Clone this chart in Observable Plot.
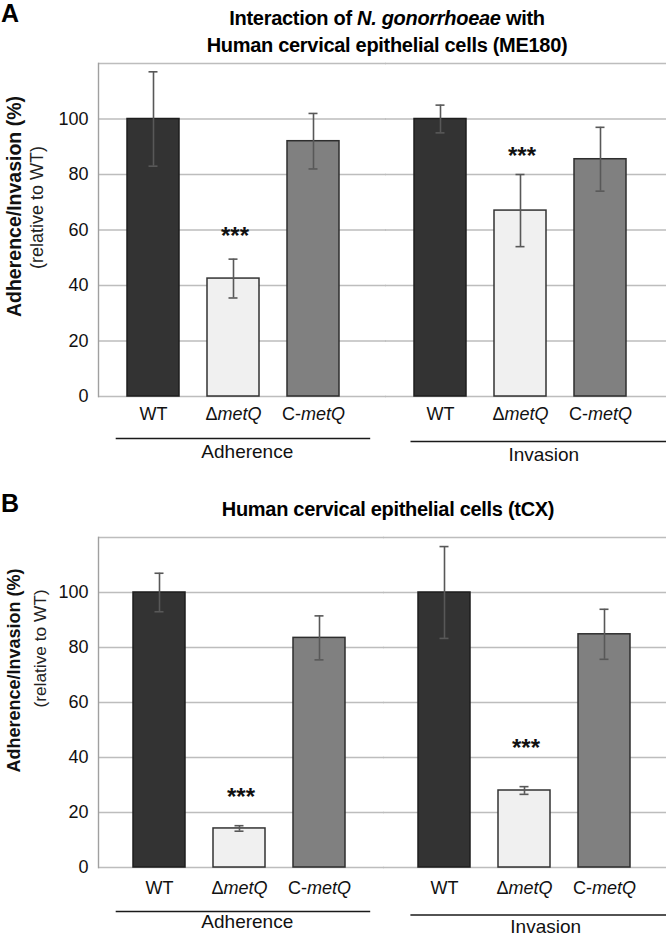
<!DOCTYPE html>
<html>
<head>
<meta charset="utf-8">
<script src="https://cdn.jsdelivr.net/npm/d3@7"></script>
<script src="https://cdn.jsdelivr.net/npm/@observablehq/plot@0.6"></script>
<style>
  body { margin: 0; background: #fff; font-family: "Liberation Sans", Arial, sans-serif; color: #000; }
  #root { position: relative; width: 666px; height: 941px; overflow: hidden; background: #fff; }
  .panel { position: absolute; left: 0; width: 666px; }
  .letter { position: absolute; left: 1px; font-weight: bold; font-size: 25px; line-height: 25px; }
  .title { position: absolute; width: 600px; text-align: center; font-weight: bold; font-size: 20px; line-height: 27px; letter-spacing: -0.3px; white-space: nowrap; }
  .panel svg { display: block; overflow: visible; position: absolute; left: 0; top: 0; }
</style>
</head>
<body>
<div id="root">
  <div class="panel" id="panelA" style="top:0px;height:470px;">
    <div class="letter" style="top:1px;">A</div>
    <div class="title" style="left:87px;top:5px;">Interaction of <i>N. gonorrhoeae</i> with<br>Human cervical epithelial cells (ME180)</div>
  </div>
  <div class="panel" id="panelB" style="top:470px;height:471px;">
    <div class="letter" style="top:21px;">B</div>
    <div class="title" style="left:88px;top:26px;">Human cervical epithelial cells (tCX)</div>
  </div>
</div>
<script>
// ---- data ----
const groups = ["Adherence", "Invasion"];
const strains = ["WT", "ΔmetQ", "C-metQ"];
const yTickValues = [0, 20, 40, 60, 80, 100];
const gridValues = [0, 20, 40, 60, 80, 100, 120];

// panel A (ME180), order: Adherence WT, ΔmetQ, C-metQ, Invasion WT, ΔmetQ, C-metQ
const meansA = [100, 42.5, 92, 100, 67, 85.5];
const errorsA = [17, 7, 10, 5, 13, 11.5];
const sigA = ["", "***", "", "", "***", ""];
const sigLevelA = [null, 58.6, null, null, 87.4, null];

// panel B (tCX)
const meansB = [100, 14.2, 83.5, 100, 28, 84.8];
const errorsB = [7, 1, 8, 16.7, 1.4, 9.1];
const sigB = ["", "***", "", "", "***", ""];
const sigLevelB = [null, 26.4, null, null, 44.2, null];

const yTitle = "Adherence/Invasion (%)";
const ySubtitle = "(relative to WT)";

const fills = ["#333333", "#f0f0f0", "#808080"];
const strokes = ["#1e1e1e", "#333333", "#2e2e2e"];

function rows(means, errors, sig, sigLevel) {
  const out = [];
  groups.forEach((g, gi) => strains.forEach((s, si) => {
    const i = gi * strains.length + si;
    out.push({group: g, strain: s, mean: means[i], err: errors[i], lo: means[i] - errors[i], hi: means[i] + errors[i], sig: sig[i], sigY: sigLevel[i]});
  }));
  return out;
}

function italicize(svg) {
  svg.querySelectorAll("text").forEach(t => {
    const s = t.textContent;
    if (s === "ΔmetQ" || s === "C-metQ") {
      const pre = s.slice(0, s.length - 4);
      while (t.firstChild) t.removeChild(t.firstChild);
      const a = document.createElementNS("http://www.w3.org/2000/svg", "tspan");
      a.textContent = pre;
      const b = document.createElementNS("http://www.w3.org/2000/svg", "tspan");
      b.textContent = "metQ";
      b.setAttribute("font-style", "italic");
      t.appendChild(a); t.appendChild(b);
    }
  });
}

function panel(data, cfg) {
  const first = groups[0];
  const perGroup = [];
  cfg.groupStyle.forEach((gs, gi) => {
    const g = [groups[gi]];
    // horizontal gridlines, continued across the gap between the two groups
    perGroup.push(Plot.ruleY(gridValues.map(v => ({group: groups[gi], v})), {fx: "group", y: "v", stroke: "#bdbdbd", strokeWidth: 1.4, insetRight: gs.gridInsetRight}));
    perGroup.push(Plot.ruleY(g, {fx: d => d, y: () => 0, dy: gs.lineDy, insetLeft: gs.insetLeft, insetRight: gs.insetRight, stroke: "#1a1a1a", strokeWidth: 1.3}));
    perGroup.push(Plot.text(g, {fx: d => d, text: d => d, frameAnchor: "bottom", dy: gs.labelDy, dx: gs.labelDx, fontSize: 19, fill: "#111"}));
  });
  const svg = Plot.plot({
    width: 666,
    height: cfg.height,
    marginLeft: 97,
    marginRight: cfg.marginRight,
    marginTop: cfg.marginTop,
    marginBottom: cfg.marginBottom,
    style: {fontFamily: "Liberation Sans, Arial, sans-serif", fontSize: "18px", background: "transparent", color: "#111", overflow: "visible"},
    fx: {domain: groups, paddingInner: cfg.fxPi, paddingOuter: 0, axis: null, label: null},
    x: {domain: strains, paddingInner: 0.345, paddingOuter: cfg.xPo, axis: null, label: null},
    y: {domain: [0, 120], axis: null, label: null},
    marks: [
      ...perGroup,
      Plot.frame({anchor: "left", facetAnchor: "left", stroke: "#a0a0a0", strokeWidth: 1.4}),
      Plot.text(yTickValues.map(v => ({group: first, v})), {fx: "group", y: "v", text: d => String(d.v), frameAnchor: "left", textAnchor: "end", dx: -10, fontSize: 18, fill: "#111"}),
      Plot.text([first], {fx: d => d, text: () => yTitle, frameAnchor: "left", textAnchor: "middle", rotate: -90, dx: -84, dy: cfg.titleDy, fontWeight: "bold", fontSize: cfg.titleSize, fill: "#111"}),
      Plot.text([first], {fx: d => d, text: () => ySubtitle, frameAnchor: "left", textAnchor: "middle", rotate: -90, dx: cfg.subDx, dy: cfg.subDy, fontSize: cfg.subSize, fill: "#222"}),
      Plot.barY(data, {fx: "group", x: "strain", y: "mean", fill: d => fills[strains.indexOf(d.strain)], stroke: d => strokes[strains.indexOf(d.strain)], strokeWidth: 1.5}),
      Plot.ruleX(data, {fx: "group", x: "strain", y1: "lo", y2: "hi", stroke: "#585858", strokeWidth: 1.6}),
      Plot.tickY(data, {fx: "group", x: "strain", y: "lo", stroke: "#585858", strokeWidth: 1.6, insetLeft: 21.5, insetRight: 21.5}),
      Plot.tickY(data, {fx: "group", x: "strain", y: "hi", stroke: "#585858", strokeWidth: 1.6, insetLeft: 21.5, insetRight: 21.5}),
      Plot.text(data.filter(d => d.sig), {fx: "group", x: "strain", y: "sigY", text: "sig", fontWeight: "bold", fontSize: 24, letterSpacing: 3, dx: 1.5, dy: 2, fill: "#111"}),
      Plot.text(data, {fx: "group", x: "strain", text: "strain", frameAnchor: "bottom", dy: cfg.tickDy, fontSize: 18, fill: "#111"})
    ]
  });
  italicize(svg);
  return svg;
}

const svgA = panel(rows(meansA, errorsA, sigA, sigLevelA), {
  height: 470, marginTop: 63, marginBottom: 74, marginRight: 11,
  fxPi: 0.0595, xPo: 0.348, tickDy: 23,
  titleDy: -23.5, titleSize: 19.5, subDx: -61, subDy: -22.5, subSize: 18,
  groupStyle: [
    {gridInsetRight: -18, lineDy: 42, insetLeft: 17.7, insetRight: -2.2, labelDy: 61, labelDx: 13.8},
    {gridInsetRight: -11, lineDy: 45, insetLeft: 25.5, insetRight: -11.1, labelDy: 64.5, labelDx: 23.3}
  ]
});
const svgB = panel(rows(meansB, errorsB, sigB, sigLevelB), {
  height: 471, marginTop: 67, marginBottom: 74, marginRight: 0,
  fxPi: 0.0077, xPo: 0.428, tickDy: 26,
  titleDy: -32, titleSize: 18, subDx: -58.5, subDy: -54, subSize: 17.3,
  groupStyle: [
    {gridInsetRight: -3, lineDy: 44, insetLeft: 17.7, insetRight: 10.8, labelDy: 60, labelDx: 7.3},
    {gridInsetRight: 0, lineDy: 47.5, insetLeft: 27.4, insetRight: -1, labelDy: 65, labelDx: 20.7}
  ]
});
document.getElementById("panelA").insertBefore(svgA, document.getElementById("panelA").firstChild);
document.getElementById("panelB").insertBefore(svgB, document.getElementById("panelB").firstChild);
</script>
</body>
</html>
